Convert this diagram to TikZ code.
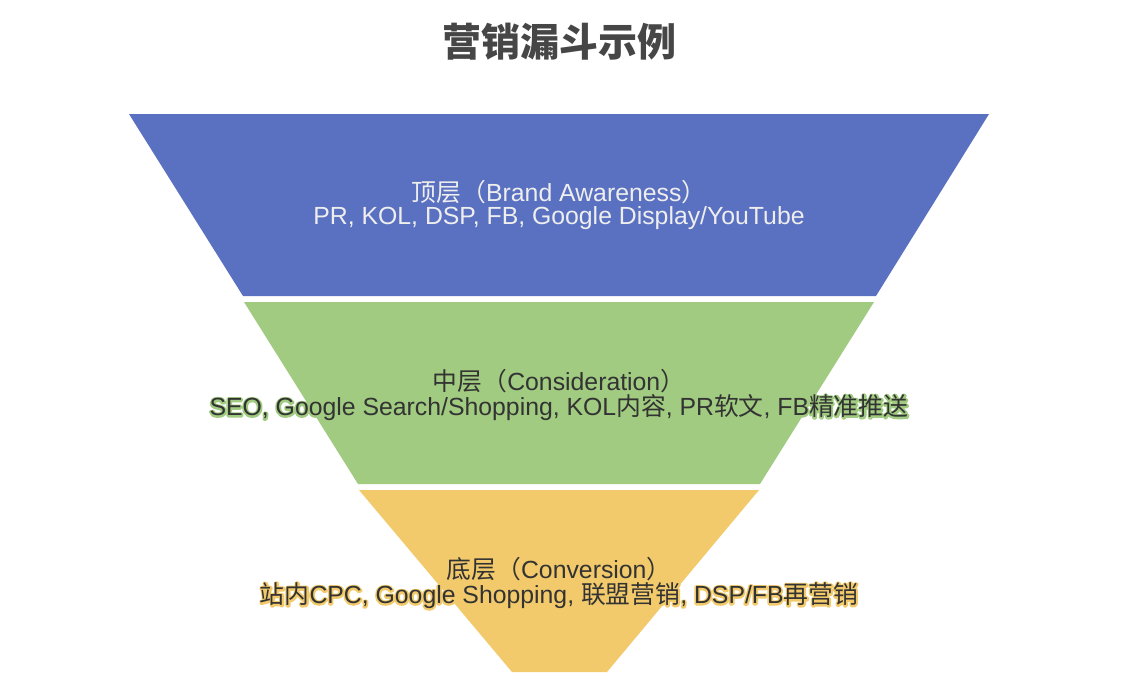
\documentclass[tikz,border=0pt]{standalone}
\usepackage{fontspec}
\setmainfont{Liberation Sans}
\newfontfamily\cjk{Noto Sans CJK SC}
\definecolor{fblue}{HTML}{5A70C0}
\definecolor{fgreen}{HTML}{A0CB80}
\definecolor{fyellow}{HTML}{F2CA6B}
\definecolor{txtdark}{HTML}{333333}
\definecolor{txtlight}{HTML}{EEEEEE}
\definecolor{titlecol}{HTML}{464646}
\newcommand\C[1]{{\cjk #1}}
\newcommand\outlineon{\special{pdf:literal direct 1 Tr 3.4 w 1 j 1 J}}
\newcommand\outlineoff{\special{pdf:literal direct 0 Tr}}
\newcommand\halolabel[5]{%
  \node[lbl,text=#3] at (#2) {\outlineon#5\outlineoff};
  \node[lbl,text=#4] (#1) at (#2) {#5};}
\tikzset{
  lbl/.style={inner sep=0pt,font=\fontsize{24.8}{27}\selectfont}
}
\begin{document}
\begin{tikzpicture}[x=1pt,y=-1pt]
\useasboundingbox (0,0) rectangle (1130,678);
\fill[white] (0,0) rectangle (1130,678);
\node[inner sep=0pt,text=titlecol,font=\fontsize{39}{42}\selectfont\cjk\bfseries] (title) at (559,42) {营销漏斗示例};
% funnel layers
\fill[fblue] (129,114) -- (989,114) -- (876,296) -- (243,296) -- cycle;
\fill[fgreen] (244,302) -- (874,302) -- (760,484) -- (358,484) -- cycle;
\fill[fyellow] (359,490) -- (759,490) -- (607,672) -- (512,672) -- cycle;
% labels
\coordinate (t1) at (559,192);
\coordinate (t2) at (559,218.5);
\coordinate (m1) at (559,381.5);
\coordinate (m2) at (559,408);
\coordinate (b1) at (559,569.5);
\coordinate (b2) at (559,596);
\node[lbl,text=txtlight] (topA) at (t1) {\C{顶层（}Brand Awareness\C{）}};
\node[lbl,text=txtlight] (topB) at (t2) {PR, KOL, DSP, FB, Google Display/YouTube};
\node[lbl,text=txtdark] (midA) at (m1) {\C{中层（}Consideration\C{）}};
\halolabel{midB}{m2}{fgreen}{txtdark}{SEO, Google Search/Shopping, KOL\C{内容}, PR\C{软文}, FB\C{精准推送}}
\node[lbl,text=txtdark] (botA) at (b1) {\C{底层（}Conversion\C{）}};
\halolabel{botB}{b2}{fyellow}{txtdark}{\C{站内}CPC, Google Shopping, \C{联盟营销}, DSP/FB\C{再营销}}
\end{tikzpicture}
\end{document}
